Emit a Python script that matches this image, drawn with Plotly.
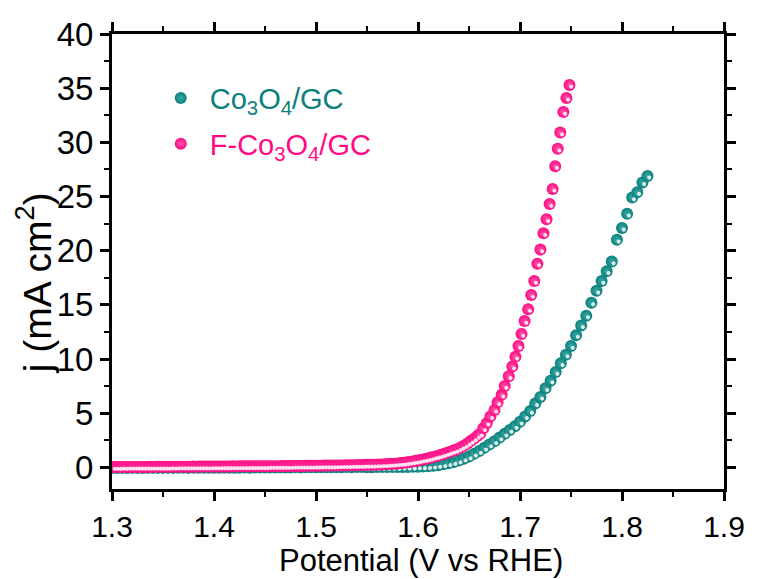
import plotly.graph_objects as go

# Linear sweep voltammetry, Co3O4/GC electrode
teal_potential = [
    1.300, 1.305, 1.310, 1.315, 1.320, 1.325, 1.330, 1.335, 1.340, 1.345,
    1.350, 1.355, 1.360, 1.365, 1.370, 1.375, 1.380, 1.385, 1.390, 1.395,
    1.400, 1.405, 1.410, 1.415, 1.420, 1.425, 1.430, 1.435, 1.440, 1.445,
    1.450, 1.455, 1.460, 1.465, 1.470, 1.475, 1.480, 1.485, 1.490, 1.495,
    1.500, 1.505, 1.510, 1.515, 1.520, 1.525, 1.530, 1.535, 1.540, 1.545,
    1.550, 1.555, 1.560, 1.565, 1.570, 1.575, 1.580, 1.585, 1.590, 1.595,
    1.600, 1.605, 1.610, 1.615, 1.620, 1.625, 1.630, 1.635, 1.640, 1.645,
    1.650, 1.655, 1.660, 1.665, 1.670, 1.675, 1.680, 1.685, 1.690, 1.695,
    1.700, 1.705, 1.710, 1.715, 1.720, 1.725, 1.730, 1.735, 1.740, 1.745,
    1.750, 1.755, 1.760, 1.765, 1.770, 1.775, 1.780, 1.785, 1.790, 1.795,
    1.800, 1.805, 1.810, 1.815, 1.820, 1.825,
]
teal_current = [
    -0.06, -0.06, -0.05, -0.06, -0.05, -0.05, -0.06, -0.05, -0.05, -0.05,
    -0.05, -0.04, -0.05, -0.04, -0.04, -0.05, -0.04, -0.04, -0.04, -0.03,
    -0.04, -0.03, -0.03, -0.04, -0.03, -0.03, -0.02, -0.03, -0.02, -0.02,
    -0.02, -0.02, -0.01, -0.02, -0.01, -0.01, 0.00, -0.01, 0.00, 0.00,
    0.00, 0.01, 0.00, 0.01, 0.01, 0.01, 0.02, 0.01, 0.02, 0.02,
    0.01, 0.01, 0.02, 0.02, 0.02, 0.03, 0.03, 0.04, 0.04, 0.05,
    0.06, 0.08, 0.10, 0.14, 0.20, 0.28, 0.37, 0.48, 0.62, 0.80,
    1.00, 1.25, 1.50, 1.80, 2.10, 2.40, 2.75, 3.10, 3.45, 3.80,
    4.20, 4.70, 5.20, 5.90, 6.50, 7.30, 8.00, 8.80, 9.60, 10.40,
    11.20, 12.20, 13.10, 14.00, 15.20, 16.30, 17.20, 18.10, 19.00, 21.00,
    22.10, 23.40, 24.90, 25.40, 26.30, 26.90,
]

# Linear sweep voltammetry, F-Co3O4/GC electrode
pink_potential = [
    1.301, 1.304, 1.307, 1.310, 1.313, 1.316, 1.319, 1.322, 1.325, 1.328,
    1.331, 1.334, 1.337, 1.340, 1.343, 1.346, 1.349, 1.352, 1.355, 1.358,
    1.361, 1.364, 1.367, 1.370, 1.373, 1.376, 1.379, 1.382, 1.385, 1.388,
    1.391, 1.394, 1.397, 1.400, 1.403, 1.406, 1.409, 1.412, 1.415, 1.418,
    1.421, 1.424, 1.427, 1.430, 1.433, 1.436, 1.439, 1.442, 1.445, 1.448,
    1.451, 1.454, 1.457, 1.460, 1.463, 1.466, 1.469, 1.472, 1.475, 1.478,
    1.481, 1.484, 1.487, 1.490, 1.493, 1.496, 1.499, 1.502, 1.505, 1.508,
    1.511, 1.514, 1.517, 1.520, 1.523, 1.526, 1.529, 1.532, 1.535, 1.538,
    1.541, 1.544, 1.547, 1.550, 1.553, 1.556, 1.559, 1.562, 1.565, 1.568,
    1.571, 1.574, 1.577, 1.580, 1.583, 1.586, 1.589, 1.592, 1.595, 1.598,
    1.601, 1.604, 1.607, 1.610, 1.613, 1.616, 1.619, 1.622, 1.625, 1.628,
    1.631, 1.634, 1.637, 1.640, 1.643, 1.646, 1.649, 1.652, 1.655, 1.658,
    1.661, 1.664, 1.6675, 1.671, 1.675, 1.678, 1.682, 1.685, 1.689, 1.6925,
    1.6955, 1.6985, 1.7015, 1.7045, 1.708, 1.711, 1.714, 1.717, 1.720, 1.723,
    1.726, 1.729, 1.732, 1.7345, 1.737, 1.7395, 1.7425, 1.7455, 1.7485,
]
pink_current = [
    0.03, 0.03, 0.03, 0.04, 0.03, 0.04, 0.04, 0.04, 0.04, 0.04,
    0.04, 0.04, 0.05, 0.04, 0.05, 0.05, 0.05, 0.05, 0.05, 0.06,
    0.05, 0.06, 0.06, 0.06, 0.06, 0.06, 0.07, 0.06, 0.07, 0.07,
    0.07, 0.07, 0.07, 0.08, 0.07, 0.08, 0.08, 0.08, 0.08, 0.09,
    0.08, 0.09, 0.09, 0.09, 0.09, 0.10, 0.09, 0.10, 0.10, 0.10,
    0.10, 0.11, 0.11, 0.11, 0.11, 0.12, 0.12, 0.12, 0.12, 0.13,
    0.13, 0.13, 0.13, 0.14, 0.14, 0.14, 0.15, 0.15, 0.15, 0.16,
    0.16, 0.16, 0.17, 0.17, 0.18, 0.18, 0.19, 0.19, 0.20, 0.20,
    0.21, 0.21, 0.22, 0.23, 0.23, 0.24, 0.25, 0.26, 0.27, 0.28,
    0.30, 0.32, 0.34, 0.36, 0.39, 0.42, 0.46, 0.50, 0.55, 0.60,
    0.65, 0.71, 0.77, 0.83, 0.90, 0.98, 1.05, 1.13, 1.22, 1.32,
    1.42, 1.52, 1.62, 1.75, 1.90, 2.05, 2.25, 2.45, 2.65, 2.90,
    3.10, 3.60, 4.10, 4.70, 5.30, 6.00, 6.70, 7.50, 8.40, 9.30,
    10.20, 11.20, 12.30, 13.50, 14.60, 15.90, 17.20, 18.80, 20.10, 21.60,
    22.90, 24.30, 25.70, 27.80, 29.40, 30.90, 32.80, 34.10, 35.30,
]

TEAL = "#0b807c"
TEAL_LIGHT = "#3fa9a5"
PINK = "#ff0a84"
PINK_LIGHT = "#ff5aa9"
FONT = "Liberation Sans, Arial, sans-serif"

series = [
    ("Co<sub>3</sub>O<sub>4</sub>/GC", teal_potential, teal_current, TEAL, TEAL_LIGHT),
    ("F-Co<sub>3</sub>O<sub>4</sub>/GC", pink_potential, pink_current, PINK, PINK_LIGHT),
]

fig = go.Figure()
for i, (label, xs, ys, color, light) in enumerate(series):
    # shaded sphere body
    fig.add_trace(go.Scatter(
        x=xs, y=ys, mode="markers",
        name=f'<span style="color:{color}">{label}</span>',
        legendgroup=f"g{i}",
        marker=dict(size=12, color=color, line=dict(width=0),
                    gradient=dict(type="radial", color=light)),
    ))
    # specular highlight, nudged toward the upper left
    fig.add_trace(go.Scatter(
        x=xs, y=ys, mode="markers", showlegend=False, hoverinfo="skip",
        legendgroup=f"g{i}",
        marker=dict(size=4, color="rgba(255,255,255,0.85)", line=dict(width=0),
                    angle=-45, standoff=2.5),
    ))

axis_common = dict(
    showgrid=False, zeroline=False, automargin=False,
    showline=True, linecolor="black", linewidth=3, mirror="ticks",
    ticks="outside", ticklen=9, tickwidth=2.5, tickcolor="black",
)

fig.update_xaxes(
    range=[1.3, 1.9], tick0=1.3, dtick=0.1, tickformat=".1f",
    tickfont=dict(family=FONT, size=30, color="black"),
    minor=dict(dtick=0.05, ticks="outside", ticklen=5, tickwidth=2, tickcolor="black"),
    **axis_common,
)
fig.update_yaxes(
    range=[-2, 40], tick0=0, dtick=5,
    tickfont=dict(family=FONT, size=33, color="black"),
    minor=dict(dtick=2.5, ticks="outside", ticklen=5, tickwidth=2, tickcolor="black"),
    **axis_common,
)

# axis titles
fig.add_annotation(
    text="Potential (V vs RHE)", showarrow=False,
    xref="paper", yref="paper", x=0.505, y=-0.198,
    xanchor="center", yanchor="bottom", borderpad=0,
    font=dict(family=FONT, size=31, color="black"),
)
fig.add_annotation(
    text="j (mA cm<sup>2</sup>)", textangle=-90, showarrow=False,
    xref="paper", yref="paper", x=-0.127, y=0.453,
    xanchor="center", yanchor="middle",
    font=dict(family=FONT, size=39, color="black"),
)

fig.update_layout(
    width=760, height=579,
    margin=dict(l=112, r=36, t=34, b=90),
    plot_bgcolor="white", paper_bgcolor="white",
    legend=dict(
        x=0.065, y=0.915, xanchor="left", yanchor="top",
        bgcolor="rgba(0,0,0,0)", itemwidth=48, tracegroupgap=5,
        font=dict(family=FONT, size=29),
    ),
)

fig.write_html("out.html")
